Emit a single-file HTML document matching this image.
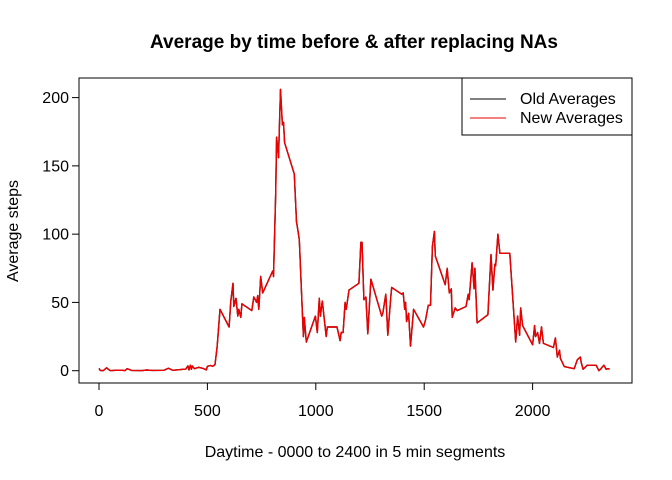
<!DOCTYPE html>
<html><head><meta charset="utf-8"><style>
body{margin:0;background:#fff}
svg{display:block;font-family:"Liberation Sans",Arial,sans-serif}
</style></head><body>
<svg id="chart" width="672" height="480">
<text x="354" y="48" text-anchor="middle" font-size="19" font-weight="bold">Average by time before &amp; after replacing NAs</text>
<text x="355" y="457" text-anchor="middle" font-size="16">Daytime - 0000 to 2400 in 5 min segments</text>
<text transform="translate(18,231) rotate(-90)" text-anchor="middle" font-size="16">Average steps</text>
<rect x="79" y="78" width="553" height="305" fill="none" stroke="#000" stroke-width="1"/>
<g id="xaxis"></g>
<g id="yaxis"></g>
<g id="series"></g>
<g>
<rect x="462" y="78" width="170" height="57" fill="#fff" stroke="#000"/>
<line x1="470" y1="99" x2="506" y2="99" stroke="#000"/>
<text x="520" y="104" font-size="16">Old Averages</text>
<line x1="470" y1="118" x2="506" y2="118" stroke="#e00"/>
<text x="520" y="123" font-size="16">New Averages</text>
</g>
</svg>
<script>
const intervals=[0,5,10,20,35,50,60,75,100,120,130,150,200,220,245,300,320,340,400,410,415,421,426,430,440,460,480,495,500,515,525,535,545,558,600,608,618,622,632,640,645,654,659,705,714,727,732,737,746,755,801,805,815,819,828,837,846,851,856,901,911,915,924,938,943,947,956,998,1007,1016,1021,1030,1048,1053,1098,1112,1117,1126,1135,1140,1153,1199,1208,1213,1222,1231,1240,1254,1304,1309,1323,1332,1346,1350,1396,1403,1410,1414,1419,1428,1437,1451,1497,1506,1519,1529,1538,1547,1551,1597,1606,1616,1625,1629,1643,1652,1693,1703,1707,1721,1730,1734,1744,1794,1808,1817,1826,1830,1840,1849,1895,1908,1922,1931,1940,1945,1954,2000,2009,2014,2023,2032,2041,2050,2096,2105,2114,2124,2128,2146,2192,2206,2220,2224,2233,2252,2293,2306,2315,2329,2339,2348,2355];
const oldAvg=[1.7,0.3,0.1,0.1,2.1,0.2,0.1,0.3,0.4,0.1,1.5,0.2,0.1,0.5,0.2,0.3,1.8,0.3,1.2,3.5,0.5,4,1,3.5,1.5,2.5,1.7,0.6,3.2,3.8,3.2,4.5,18,45,32,51,64,47,53,40,45,39,49,44,54,50,55,45,69,57,73,69,130,171,156,206,180,182,167,144,109,105,96,42,25,39,21,40,28,53,40,51,25,32,32,22,28,28,50,45,59,64,94,94,52,54,27,67,40,42,56,26,54,61,56,57,45,50,36,42,18,45,32,37,48,48,91,102,84,63,75,57,60,39,46,44,47,56,52,79,60,75,35,41,85,59,78,77,100,86,86,54,21,40,26,46,33,19,33,25,28,20,32,20,17,24,10,15,9,3,1.5,8,10,6,1,4,4,0,1.5,4,1,1.5,1.1];
const newAvg=oldAvg.slice();
const yTicks=[0,50,100,150,200];
const xTicks=[0,500,1000,1500,2000];
const NS="http://www.w3.org/2000/svg";
const X=v=>99+v*0.2168, Y=v=>370.7-v*1.3655;
const xa=document.getElementById('xaxis'), ya=document.getElementById('yaxis'), sg=document.getElementById('series');
function mk(tag,attrs,parent){const e=document.createElementNS(NS,tag);for(const k in attrs)e.setAttribute(k,attrs[k]);parent.appendChild(e);return e;}
let l=mk('line',{x1:X(0),x2:X(2000),y1:383,y2:383,stroke:'#000'},xa);


xTicks.forEach(t=>{
  const tk=mk('line',{x1:X(t),x2:X(t),y1:383,y2:390,stroke:'#000'},xa);
  
  
  const tx=mk('text',{x:X(t),y:416,'text-anchor':'middle','font-size':'16'},xa);
  tx.textContent=t;
  
  
});
l=mk('line',{x1:79,x2:79,y1:Y(0),y2:Y(200),stroke:'#000'},ya);


yTicks.forEach(t=>{
  const tk=mk('line',{x1:72,x2:79,y1:Y(t),y2:Y(t),stroke:'#000'},ya);
  
  
  const tx=mk('text',{x:69,y:Y(t)+5.5,'text-anchor':'end','font-size':'16'},ya);
  tx.textContent=t;
  
  
});
function path(vals,color,name){
  const d=intervals.map((x,i)=>(i?'L':'M')+X(x).toFixed(1)+','+Y(vals[i]).toFixed(1)).join('');
  const p=mk('path',{d:d,fill:'none',stroke:color,'stroke-width':1.4,'stroke-linejoin':'round'},sg);
  
  
}
path(oldAvg,'#000','old-averages-line');
path(newAvg,'#e00','new-averages-line');
</script>
</body></html>
